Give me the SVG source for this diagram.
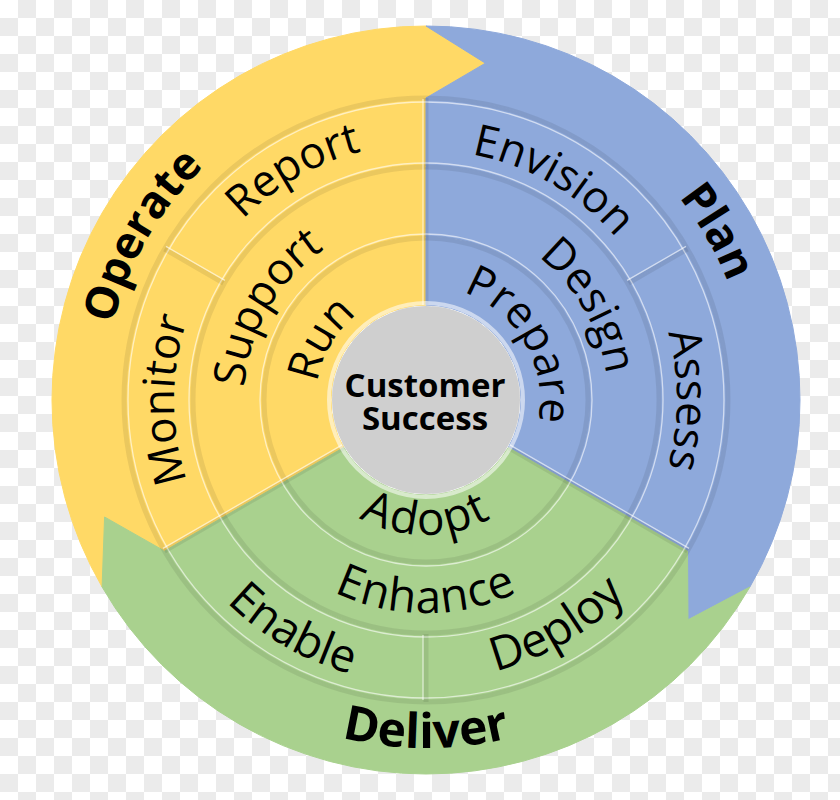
<svg xmlns="http://www.w3.org/2000/svg" width="840" height="800" viewBox="0 0 840 800">
<defs>
<pattern id="chk" width="36" height="36" patternUnits="userSpaceOnUse"><rect width="36" height="36" fill="#ffffff"/><rect x="18" width="18" height="18" fill="#ebebeb"/><rect y="18" width="18" height="18" fill="#ebebeb"/></pattern>
<path id="p-operate" d="M123.4,510.1 A322,322 0 0 1 370.1,82.9"/>
<path id="p-plan" d="M482.2,80.9 A324,324 0 0 1 730.5,510.8"/>
<path id="p-deliver" d="M159.4,623.7 A348,348 0 0 0 692.6,623.7"/>
<path id="p-report" d="M173.9,355.6 A254,254 0 0 1 513.6,159.4"/>
<path id="p-monitor" d="M264.0,593.0 A252,252 0 0 1 264.0,207.0"/>
<path id="p-envision" d="M340.5,165.1 A250,250 0 0 1 672.2,356.6"/>
<path id="p-assess" d="M587.3,207.7 A251,251 0 0 1 587.3,592.3"/>
<path id="p-enable" d="M146.3,449.3 A284,284 0 0 0 523.1,666.9"/>
<path id="p-deploy" d="M330.2,663.1 A280,280 0 0 0 701.7,448.6"/>
<path id="p-support" d="M255.0,462.2 A182,182 0 0 1 394.4,220.8"/>
<path id="p-run" d="M322.6,437.6 A110,110 0 0 1 406.9,291.7"/>
<path id="p-design" d="M457.6,220.8 A182,182 0 0 1 597.0,462.2"/>
<path id="p-prepare" d="M445.8,287.7 A114,114 0 0 1 533.1,439.0"/>
<path id="p-enhance" d="M262.8,536.9 A213,213 0 0 0 589.2,536.9"/>
<path id="p-adopt" d="M322.6,486.8 A135,135 0 0 0 529.4,486.8"/>
</defs>
<style>
.y{fill:#FFD966;stroke:#FFD966;stroke-width:1;stroke-linejoin:round}
.b{fill:#8EA9DB;stroke:#8EA9DB;stroke-width:1;stroke-linejoin:round}
.g{fill:#A9D18E;stroke:#A9D18E;stroke-width:1;stroke-linejoin:round}
.dk{fill:none;stroke:#000;stroke-opacity:0.08;stroke-width:5}
.hl{fill:none;stroke:#fff;stroke-opacity:0.6;stroke-width:1.3}
.lbl{font-family:"Open Sans","Liberation Sans",sans-serif;font-size:44px;fill:#000}
.bold{font-weight:700;font-size:45px}
.ctr{font-family:"Open Sans","Liberation Sans",sans-serif;font-size:33px;font-weight:700;fill:#000}
</style>
<rect width="840" height="800" fill="url(#chk)"/>

<g id="band-operate">
<path class="y" d="M102.1,587 A374,374 0 0 1 426,26 L485.4,63.2 L426,98 A302,302 0 0 0 164.5,551 L104.6,517 Z"/>
<text class="lbl bold"><textPath href="#p-operate" startOffset="50%" text-anchor="middle">Operate</textPath></text>
</g>
<g id="band-plan">
<path class="b" d="M426,26 A374,374 0 0 1 749.9,587 L688,619.8 L687.5,551 A302,302 0 0 0 426,98 L485.4,63.2 Z"/>
<text class="lbl bold"><textPath href="#p-plan" startOffset="50%" text-anchor="middle">Plan</textPath></text>
</g>
<g id="band-deliver">
<path class="g" d="M749.9,587 A374,374 0 0 1 102.1,587 L104.6,517 L164.5,551 A302,302 0 0 0 687.5,551 L688,619.8 Z"/>
<text class="lbl bold" style="font-size:48px"><textPath href="#p-deliver" startOffset="50%" text-anchor="middle">Deliver</textPath></text>
</g>

<g id="tiles">
<path id="tile-run" class="y" d="M284.8,481.5 A163,163 0 0 1 426,237 L426,305 A95,95 0 0 0 343.7,447.5 Z"/>
<path id="tile-prepare" class="b" d="M426,237 A163,163 0 0 1 567.2,481.5 L508.3,447.5 A95,95 0 0 0 426,305 Z"/>
<path id="tile-adopt" class="g" d="M567.2,481.5 A163,163 0 0 1 284.8,481.5 L343.7,447.5 A95,95 0 0 0 508.3,447.5 Z"/>
<path id="tile-support" class="y" d="M223.4,517 A234,234 0 0 1 426,166 L426,237 A163,163 0 0 0 284.8,481.5 Z"/>
<path id="tile-design" class="b" d="M426,166 A234,234 0 0 1 628.6,517 L567.2,481.5 A163,163 0 0 0 426,237 Z"/>
<path id="tile-enhance" class="g" d="M628.6,517 A234,234 0 0 1 223.4,517 L284.8,481.5 A163,163 0 0 0 567.2,481.5 Z"/>
<path id="tile-monitor" class="y" d="M164.5,551 A302,302 0 0 1 164.5,249 L223.4,283 A234,234 0 0 0 223.4,517 Z"/>
<path id="tile-report" class="y" d="M164.5,249 A302,302 0 0 1 426,98 L426,166 A234,234 0 0 0 223.4,283 Z"/>
<path id="tile-envision" class="b" d="M426,98 A302,302 0 0 1 687.5,249 L628.6,283 A234,234 0 0 0 426,166 Z"/>
<path id="tile-assess" class="b" d="M687.5,249 A302,302 0 0 1 687.5,551 L628.6,517 A234,234 0 0 0 628.6,283 Z"/>
<path id="tile-deploy" class="g" d="M687.5,551 A302,302 0 0 1 426,702 L426,634 A234,234 0 0 0 628.6,517 Z"/>
<path id="tile-enable" class="g" d="M426,702 A302,302 0 0 1 164.5,551 L223.4,517 A234,234 0 0 0 426,634 Z"/>
</g>

<g id="grooves">
<circle class="dk" cx="426" cy="400" r="162"/>
<circle class="dk" cx="426" cy="400" r="233"/>
<circle class="dk" cx="426" cy="400" r="302" stroke-width="4"/>
<circle class="hl" cx="426" cy="400" r="166"/>
<circle class="hl" cx="426" cy="400" r="237"/>
<circle class="hl" cx="426" cy="400" r="298"/>
<path class="dk" d="M426,305 L426,98 M508.3,447.5 L687.5,551 M343.7,447.5 L164.5,551 M223.4,283 L164.5,249 M628.6,283 L687.5,249 M426,634 L426,702"/>
<path class="hl" d="M423,305 L423,99 M509.8,444.9 L689,548.4 M342.2,444.9 L163,548.4 M224.9,280.4 L166,246.4 M627.1,280.4 L686,246.4 M423,635 L423,700"/>
</g>

<g id="labels">
<g id="node-report"><text class="lbl"><textPath href="#p-report" startOffset="50%" text-anchor="middle">Report</textPath></text></g>
<g id="node-monitor"><text class="lbl"><textPath href="#p-monitor" startOffset="50%" text-anchor="middle">Monitor</textPath></text></g>
<g id="node-support"><text class="lbl"><textPath href="#p-support" startOffset="50%" text-anchor="middle">Support</textPath></text></g>
<g id="node-run"><text class="lbl"><textPath href="#p-run" startOffset="50%" text-anchor="middle">Run</textPath></text></g>
<g id="node-envision"><text class="lbl"><textPath href="#p-envision" startOffset="50%" text-anchor="middle">Envision</textPath></text></g>
<g id="node-assess"><text class="lbl"><textPath href="#p-assess" startOffset="50%" text-anchor="middle">Assess</textPath></text></g>
<g id="node-design"><text class="lbl"><textPath href="#p-design" startOffset="50%" text-anchor="middle">Design</textPath></text></g>
<g id="node-prepare"><text class="lbl"><textPath href="#p-prepare" startOffset="50%" text-anchor="middle">Prepare</textPath></text></g>
<g id="node-enable"><text class="lbl" style="font-size:46px"><textPath href="#p-enable" startOffset="50%" text-anchor="middle">Enable</textPath></text></g>
<g id="node-deploy"><text class="lbl" style="font-size:47px"><textPath href="#p-deploy" startOffset="50%" text-anchor="middle">Deploy</textPath></text></g>
<g id="node-enhance"><text class="lbl" style="font-size:46px;letter-spacing:1px"><textPath href="#p-enhance" startOffset="50%" text-anchor="middle">Enhance</textPath></text></g>
<g id="node-adopt"><text class="lbl" style="font-size:46px;letter-spacing:2px"><textPath href="#p-adopt" startOffset="50%" text-anchor="middle">Adopt</textPath></text></g>
</g>

<g id="node-center">
<circle cx="426" cy="400" r="97" fill="none" stroke="#fff" stroke-opacity="0.55" stroke-width="4"/>
<circle cx="426" cy="400" r="94" fill="#CFCFCF"/>
<text class="ctr" x="425" y="397" text-anchor="middle">Customer</text>
<text class="ctr" x="425" y="430" text-anchor="middle">Success</text>
</g>
</svg>
